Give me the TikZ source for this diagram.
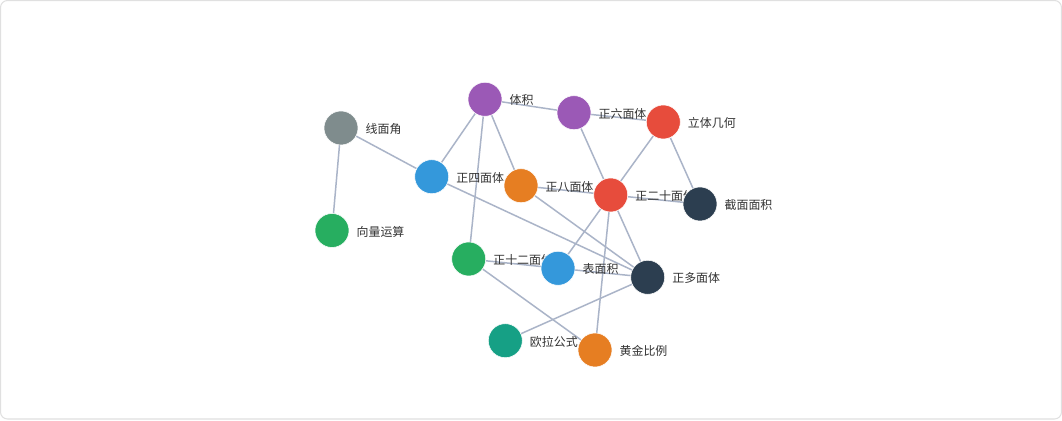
\documentclass[tikz,border=0pt]{standalone}
\usepackage{fontspec}
\setmainfont{Noto Sans CJK SC}
\usetikzlibrary{backgrounds}

\definecolor{cgray}{HTML}{7F8C8D}
\definecolor{cgreen}{HTML}{27AE60}
\definecolor{cpurple}{HTML}{9B59B6}
\definecolor{cred}{HTML}{E74C3C}
\definecolor{cblue}{HTML}{3498DB}
\definecolor{corange}{HTML}{E67E22}
\definecolor{cdark}{HTML}{2C3E50}
\definecolor{cteal}{HTML}{16A085}
\definecolor{edgecol}{HTML}{AAB4C8}
\definecolor{txtcol}{HTML}{333333}

\begin{document}
\begin{tikzpicture}[x=0.02cm, y=-0.02cm,
    pt/.style={circle, minimum size=0.68cm, inner sep=0pt, draw=white, line width=0.3pt, fill=#1},
    lbl/.style={inner sep=0pt, yshift=-0.02cm, text=txtcol, font=\fontsize{6.8}{8}\selectfont},
    label distance=0.14cm,
    link/.style={draw=edgecol, line width=0.85pt}]
                    \useasboundingbox (0,0) rectangle (1062,421);
                    \begin{scope}[on background layer]
                    \fill[white] (0,0) rectangle (1062,421);
                    \draw[black!12, line width=0.6pt, rounded corners=4pt] (0.5,0.5) rectangle (1061.5,419);
                    \end{scope}
                    \node[pt=cgray] (angle) at (341,128) [label={[lbl]right:线面角}] {};
                    \node[pt=cgreen] (vector) at (332,230.5) [label={[lbl]right:向量运算}] {};
                    \node[pt=cpurple] (volume) at (485,99.3) [label={[lbl]right:体积}] {};
                    \node[pt=cpurple] (cube) at (574,112.7) [label={[lbl]right:正六面体}] {};
                    \node[pt=cred] (solid) at (663.3,122) [label={[lbl]right:立体几何}] {};
                    \node[pt=cblue] (tetra) at (431.7,176.7) [label={[lbl]right:正四面体}] {};
                    \node[pt=corange] (octa) at (521,185.7) [label={[lbl]right:正八面体}] {};
                    \node[pt=cred] (icosa) at (610.7,195) [label={[lbl]right:正二十面体}] {};
                    \node[pt=cdark] (section) at (700,204) [label={[lbl]right:截面面积}] {};
                    \node[pt=cgreen] (dodeca) at (468.7,259) [label={[lbl]right:正十二面体}] {};
                    \node[pt=cblue] (surface) at (558,268.3) [label={[lbl]right:表面积}] {};
                    \node[pt=cdark] (poly) at (647.7,277.3) [label={[lbl]right:正多面体}] {};
                    \node[pt=cteal] (euler) at (505.3,340.7) [label={[lbl]right:欧拉公式}] {};
                    \node[pt=corange] (golden) at (595,350) [label={[lbl]right:黄金比例}] {};
                    \begin{scope}[on background layer]
                    \draw[link] (angle) -- (vector); \draw[link] (angle) -- (tetra);
                    \draw[link] (tetra) -- (poly);
                    \draw[link] (volume) -- (tetra); \draw[link] (volume) -- (octa);
                    \draw[link] (volume) -- (dodeca); \draw[link] (volume) -- (cube);
                    \draw[link] (cube) -- (solid); \draw[link] (cube) -- (icosa);
                    \draw[link] (solid) -- (icosa); \draw[link] (solid) -- (section);
                    \draw[link] (octa) -- (icosa); \draw[link] (octa) -- (poly);
                    \draw[link] (icosa) -- (section); \draw[link] (icosa) -- (surface);
                    \draw[link] (icosa) -- (poly); \draw[link] (icosa) -- (golden);
                    \draw[link] (dodeca) -- (surface); \draw[link] (surface) -- (poly);
                    \draw[link] (dodeca) -- (golden); \draw[link] (euler) -- (poly);
                    \end{scope}
                \end{tikzpicture}
\end{document}
